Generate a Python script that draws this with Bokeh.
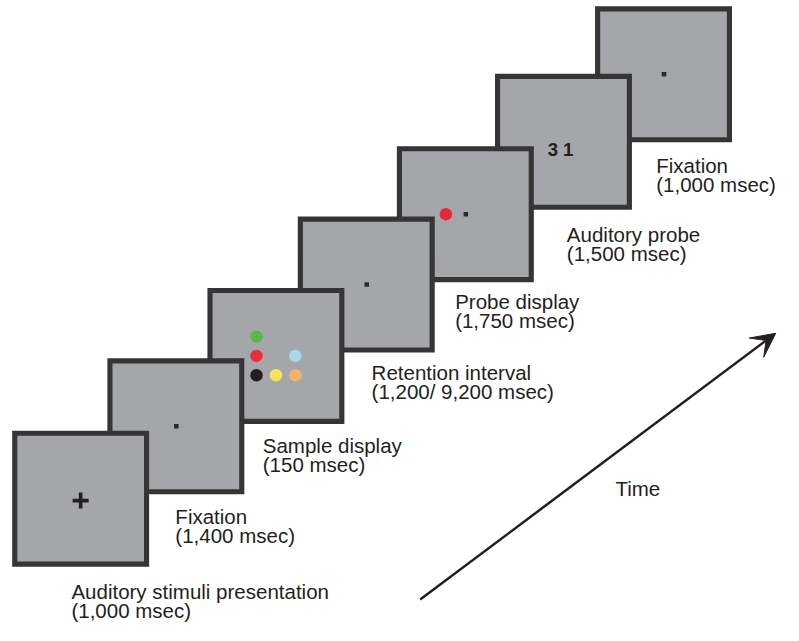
from bokeh.plotting import figure
from bokeh.models import Range1d, Arrow, VeeHead, ColumnDataSource
from bokeh.embed import file_html
from bokeh.resources import INLINE
from bokeh.core.properties import value

# ---- content of the trial sequence ----
events = ["Auditory stimuli presentation", "Fixation", "Sample display",
          "Retention interval", "Probe display", "Auditory probe", "Fixation"]
durations = ["(1,000 msec)", "(1,400 msec)", "(150 msec)", "(1,200/ 9,200 msec)",
             "(1,750 msec)", "(1,500 msec)", "(1,000 msec)"]

# screen frames (outer top-left corner, in reference pixel space)
frame_left = [12, 110, 213, 306, 408, 509, 612]
frame_top = [450, 375, 302, 228, 155, 80, 10]
FRAME = 141
BORDER = 5.3

# label anchors (left x, first-line baseline)
label_x = [73, 180, 270, 382, 468, 583, 675]
label_y = [617, 539, 465, 389.5, 316, 247, 175]
LINE_GAP = 19.8

# sample display: colour dots on a 3x3 grid (col, row) relative to centre
sample_colors = ["#5cb548", "#e8303a", "#a6dae6", "#231f20", "#f4e35f", "#f1b26c"]
sample_col = [-1, -1, 1, -1, 0, 1]
sample_row = [-1, 0, 0, 1, 1, 1]
GRID = 20

FONT = "Liberation Sans"
TXT = "#231f20"
FILL = "#a5a6aa"
EDGE = "#353535"

p = figure(width=783, height=625, x_range=Range1d(0, 806), y_range=Range1d(652, 4),
           output_backend="svg", toolbar_location=None,
           x_axis_type=None, y_axis_type=None, min_border=0)
p.outline_line_color = None
p.background_fill_color = "white"
p.border_fill_color = "white"

# frames: later ones behind earlier ones
idx = list(range(len(frame_left)))[::-1]
half = BORDER / 2
fsrc = ColumnDataSource(dict(
    left=[frame_left[i] + half for i in idx],
    right=[frame_left[i] + FRAME - half for i in idx],
    top=[frame_top[i] + half for i in idx],
    bottom=[frame_top[i] + FRAME - half for i in idx],
))
p.quad(left="left", right="right", top="top", bottom="bottom", source=fsrc,
       fill_color=FILL, line_color=EDGE, line_width=BORDER * 0.97, line_join="miter")

cx = [l + FRAME / 2 for l in frame_left]
cy = [t + FRAME / 2 for t in frame_top]

# frame 1: fixation cross
p.scatter(x=[cx[0]], y=[cy[0] + 2], marker="cross", size=16, line_width=3.6,
          line_color=TXT)

# fixation dots (frames 2, 4, 5, 7)
dot_frames = [1, 3, 4, 6]
p.scatter(x=[cx[i] + 0.5 for i in dot_frames], y=[cy[i] for i in dot_frames],
          marker="square", size=4.5, fill_color="#2a2a2a", line_color=None)

# frame 3: sample colour dots
p.scatter(x=[cx[2] + c * GRID for c in sample_col],
          y=[cy[2] + r * GRID for r in sample_row],
          marker="circle", size=12.5, fill_color=sample_colors, line_color=None)

# frame 5: probe dot
p.scatter(x=[cx[4] - GRID], y=[cy[4]], marker="circle", size=12.5,
          fill_color="#e8283a", line_color=None)

# frame 6: auditory probe digits
p.text(x=[cx[5] - 3], y=[cy[5] + 8], text=["3 1"], text_font=value(FONT),
       text_font_style="bold", text_font_size="18.5px", text_align="center",
       text_baseline="alphabetic", text_color=TXT)

# labels
p.text(x=label_x, y=label_y, text=events, text_font=value(FONT),
       text_font_size="20.5px", text_align="left", text_baseline="alphabetic",
       text_color=TXT)
p.text(x=label_x, y=[y + LINE_GAP for y in label_y], text=durations,
       text_font=value(FONT), text_font_size="20.5px", text_align="left",
       text_baseline="alphabetic", text_color=TXT)

# time arrow
p.add_layout(Arrow(x_start=432, y_start=625, x_end=798, y_end=349,
                   line_width=2.5, line_color=TXT,
                   end=VeeHead(size=24, fill_color=TXT, line_color=TXT)))
p.text(x=[633], y=[510], text=["Time"], text_font=value(FONT),
       text_font_size="20.5px", text_align="left", text_baseline="alphabetic",
       text_color=TXT)

open("out.html", "w").write(file_html(p, INLINE))
